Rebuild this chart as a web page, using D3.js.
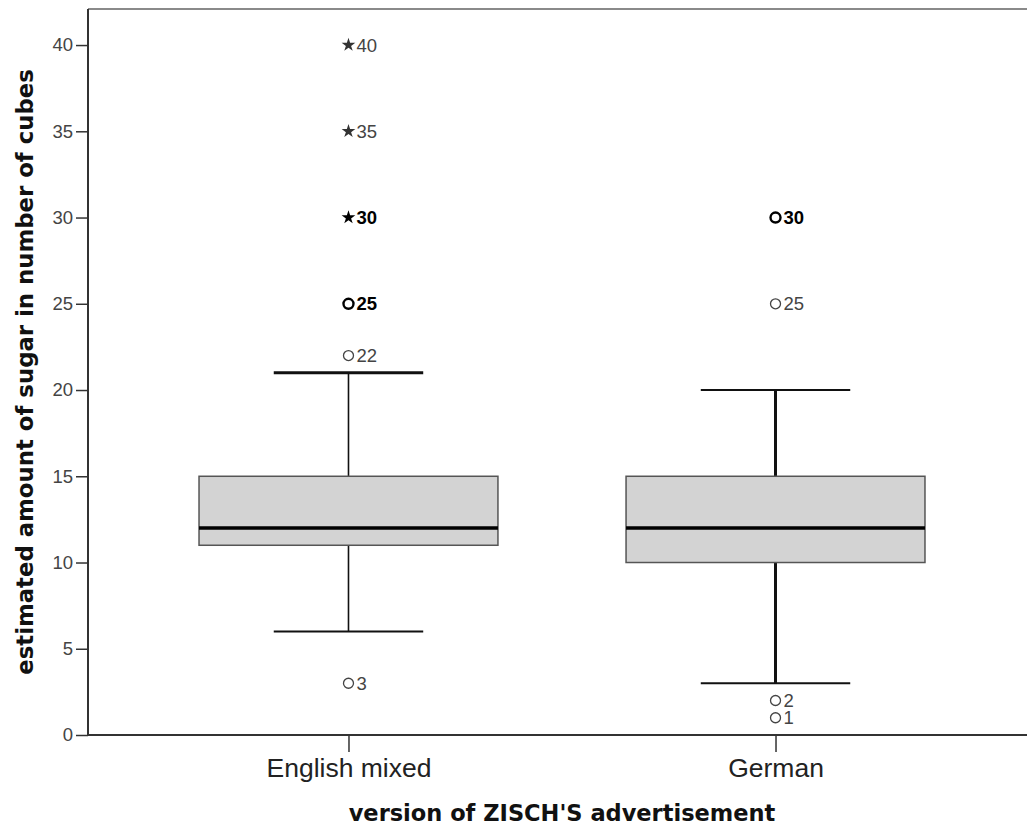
<!DOCTYPE html>
<html>
<head>
<meta charset="utf-8">
<script src="https://cdn.jsdelivr.net/npm/d3@7"></script>
<style>
  body { margin: 0; background: #fff; }
</style>
</head>
<body>
<svg id="chart"></svg>
<script>
// boxplot summary per group
const categories = ["English mixed", "German"];
const q1Values = [11, 10];
const medianValues = [12, 12];
const q3Values = [15, 15];
const whiskerLow = [6, 3];
const whiskerHigh = [21, 20];

// outliers: kind "o" = circle, "x" = extreme (star); multi = several cases at this value
const outGroup = ["English mixed", "English mixed", "English mixed", "English mixed", "English mixed", "English mixed",
                  "German", "German", "German", "German"];
const outValue = [40, 35, 30, 25, 22, 3, 30, 25, 2, 1];
const outLabel = ["40", "35", "30", "25", "22", "3", "30", "25", "2", "1"];
const outKind  = ["x", "x", "x", "o", "o", "o", "o", "o", "o", "o"];
const outMulti = [false, false, true, true, false, false, true, false, false, false];

const yTicks = [0, 5, 10, 15, 20, 25, 30, 35, 40];

const width = 1027, height = 827;
const svg = d3.select("#chart").attr("width", width).attr("height", height);

const plotLeft = 88, plotTop = 9, plotBottom = 735;

const x = d3.scalePoint()
    .domain(categories)
    .range([plotLeft, 1036])
    .padding(0.61);

const y = d3.scaleLinear()
    .domain([0, 42.09])
    .range([plotBottom, plotTop]);

const step = x.step();
const boxW = step * 0.70;
const capW = boxW / 2;

// whisker vertical stroke differs slightly between groups in the original
const stemWidth = { "English mixed": 1.6, "German": 3 };
const capHighWidth = { "English mixed": 3, "German": 2.2 };

// top frame line
svg.append("line")
    .attr("x1", plotLeft).attr("x2", width)
    .attr("y1", plotTop).attr("y2", plotTop)
    .attr("stroke", "#8a8a8a").attr("stroke-width", 2);

const g = svg.append("g");

categories.forEach((c, i) => {
    const cx = x(c);
    // whiskers
    g.append("line")
        .attr("x1", cx).attr("x2", cx)
        .attr("y1", y(q3Values[i])).attr("y2", y(whiskerHigh[i]))
        .attr("stroke", "#111").attr("stroke-width", stemWidth[c]);
    g.append("line")
        .attr("x1", cx).attr("x2", cx)
        .attr("y1", y(q1Values[i])).attr("y2", y(whiskerLow[i]))
        .attr("stroke", "#111").attr("stroke-width", stemWidth[c]);
    g.append("line")
        .attr("x1", cx - capW / 2).attr("x2", cx + capW / 2)
        .attr("y1", y(whiskerHigh[i])).attr("y2", y(whiskerHigh[i]))
        .attr("stroke", "#111").attr("stroke-width", capHighWidth[c]);
    g.append("line")
        .attr("x1", cx - capW / 2).attr("x2", cx + capW / 2)
        .attr("y1", y(whiskerLow[i])).attr("y2", y(whiskerLow[i]))
        .attr("stroke", "#111").attr("stroke-width", 2.2);
    // box
    g.append("rect")
        .attr("x", cx - boxW / 2)
        .attr("y", y(q3Values[i]))
        .attr("width", boxW)
        .attr("height", y(q1Values[i]) - y(q3Values[i]))
        .attr("fill", "#d3d3d3")
        .attr("stroke", "#555").attr("stroke-width", 1.5);
    // median
    g.append("line")
        .attr("x1", cx - boxW / 2).attr("x2", cx + boxW / 2)
        .attr("y1", y(medianValues[i])).attr("y2", y(medianValues[i]))
        .attr("stroke", "#000").attr("stroke-width", 3.5);
});

// outliers
const star = d3.symbol().type(d3.symbolStar).size(58);
outValue.forEach((v, i) => {
    const cx = x(outGroup[i]), cy = y(v);
    const multi = outMulti[i];
    if (outKind[i] === "x") {
        g.append("path")
            .attr("d", star())
            .attr("transform", `translate(${cx},${cy})`)
            .attr("fill", multi ? "#000" : "#333");
    } else {
        g.append("circle")
            .attr("cx", cx).attr("cy", cy).attr("r", 5)
            .attr("fill", "none")
            .attr("stroke", multi ? "#000" : "#444")
            .attr("stroke-width", multi ? 2.4 : 1.3);
    }
    g.append("text")
        .attr("x", cx + 8)
        .attr("y", cy)
        .attr("dy", "0.36em")
        .style("font-family", "'Liberation Sans', Arial, sans-serif")
        .style("font-size", "18.5px")
        .style("font-weight", multi ? "bold" : "normal")
        .attr("fill", multi ? "#000" : "#444")
        .text(outLabel[i]);
});

// y axis
const yAxis = svg.append("g")
    .attr("transform", `translate(${plotLeft},0)`)
    .call(d3.axisLeft(y).tickValues(yTicks).tickSize(12).tickPadding(3).tickSizeOuter(0));
yAxis.select(".domain").attr("d", `M0,${plotTop}V${plotBottom}`).attr("stroke", "#333").attr("stroke-width", 2);
yAxis.selectAll(".tick line").attr("stroke", "#333").attr("stroke-width", 1.5);
yAxis.selectAll(".tick text")
    .style("font-family", "'Liberation Sans', Arial, sans-serif")
    .style("font-size", "18.5px")
    .attr("fill", "#444");

// x axis
const xAxis = svg.append("g")
    .attr("transform", `translate(0,${plotBottom})`)
    .call(d3.axisBottom(x).tickSize(17).tickPadding(6).tickSizeOuter(0));
xAxis.select(".domain").attr("d", `M${plotLeft},0H${width}`).attr("stroke", "#333").attr("stroke-width", 2);
xAxis.selectAll(".tick line").attr("stroke", "#333").attr("stroke-width", 1.5);
xAxis.selectAll(".tick text")
    .style("font-family", "'Liberation Sans', Arial, sans-serif")
    .style("font-size", "26.5px")
    .attr("fill", "#222");

// axis titles
svg.append("text")
    .attr("x", 562)
    .attr("y", 821)
    .attr("text-anchor", "middle")
    .style("font-family", "'DejaVu Sans', sans-serif")
    .style("font-size", "22.5px")
    .style("font-weight", "bold")
    .attr("fill", "#111")
    .text("version of ZISCH'S advertisement");

svg.append("text")
    .attr("transform", `translate(33,${(plotTop + plotBottom) / 2}) rotate(-90)`)
    .attr("text-anchor", "middle")
    .style("font-family", "'DejaVu Sans', sans-serif")
    .style("font-size", "22.8px")
    .style("font-weight", "bold")
    .attr("fill", "#111")
    .text("estimated amount of sugar in number of cubes");
</script>
</body>
</html>
